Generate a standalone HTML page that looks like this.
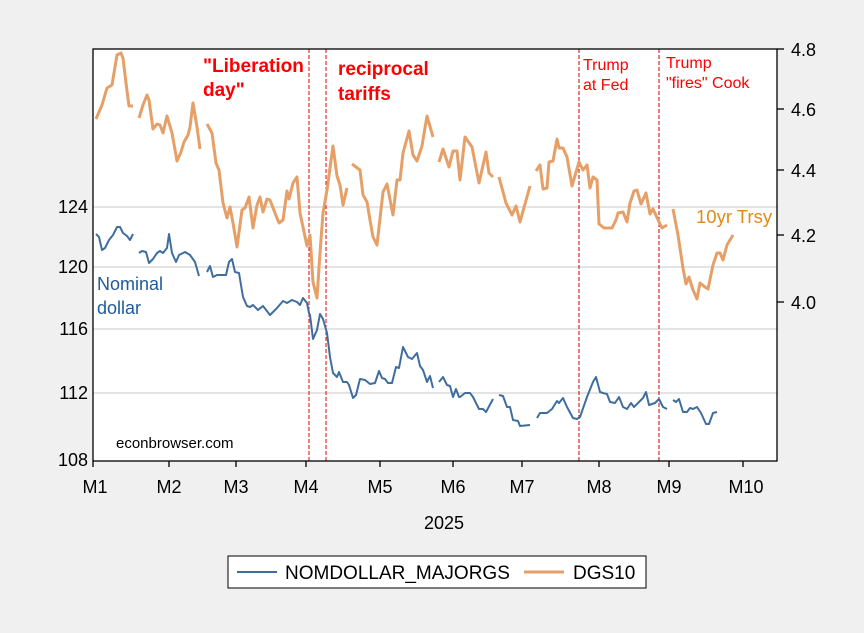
<!DOCTYPE html>
<html><head><meta charset="utf-8"><style>
body{margin:0;background:#f0f0f0;}
svg{display:block;font-family:"Liberation Sans",Arial,sans-serif;}
</style></head><body>
<svg width="864" height="633" viewBox="0 0 864 633" xmlns="http://www.w3.org/2000/svg">
<rect width="864" height="633" fill="#f0f0f0"/>
<rect x="93" y="49" width="684" height="412" fill="#fff"/>
<g stroke="#c8c8c8" stroke-width="1">
<line x1="93" y1="207" x2="777" y2="207"/>
<line x1="93" y1="267" x2="777" y2="267"/>
<line x1="93" y1="329" x2="777" y2="329"/>
<line x1="93" y1="393" x2="777" y2="393"/>
</g>
<g stroke="#e00" stroke-width="1" stroke-dasharray="4,2">
<line x1="309" y1="49" x2="309" y2="461"/>
<line x1="326" y1="49" x2="326" y2="461"/>
</g>
<g stroke="#c00" stroke-width="1" stroke-dasharray="4,2">
<line x1="579" y1="49" x2="579" y2="461"/>
<line x1="659" y1="49" x2="659" y2="461"/>
</g>
<g fill="none" stroke="#e69f66" stroke-width="3" stroke-linejoin="round">
<polyline points="96,119 102,105 107,88 112,85 117,55 121,53 123,58 126,83 129,106 133,106"/>
<polyline points="139,118 143,105 147,95 149,100 153,129 157,124 160,125 163,133 167,116 172,133 177,161 181,152 184,142 188,135 190,127 193,103 197,127 200,149"/>
<polyline points="207,124 212,133 216,163 219,170 223,203 227,218 230,207 233,223 237,247 242,210 245,208 249,197 253,228 257,205 260,197 263,212 267,199 270,200 275,213 279,223 283,220 287,191 289,199 293,183 297,177 300,213 307,246 310,235 313,282 317,298 320,253 323,213 327,190 333,146 337,176 340,185 343,205 347,188"/>
<polyline points="352,164 360,170 363,195 367,202 370,220 373,237 377,245 383,192 387,184 393,215 397,180 400,180 403,153 409,131 413,155 417,161 422,146 427,116 433,137"/>
<polyline points="439,162 443,149 449,167 453,151 457,151 460,180 465,137 472,147 479,183 486,152 489,173 493,177"/>
<polyline points="499,177 506,203 512,215 516,206 520,222 530,186"/>
<polyline points="536,171 540,165 543,189 547,188 549,162 553,161 557,139 559,148 563,148 567,157 572,186 579,162 583,170 587,165 590,188 593,177 597,180 599,224 604,228 612,228 616,220 618,213 623,212 627,222 630,203 634,191 637,190 641,204 646,193 650,214 653,209 660,224 662,228 667,225"/>
<polyline points="673,209 678,235 683,268 686,284 689,277 693,290 697,299 700,283 705,287 708,289 713,265 717,253 720,253 723,260 727,245 733,235"/>
</g>
<g fill="none" stroke="#3f6e9e" stroke-width="2" stroke-linejoin="round">
<polyline points="96,234 99,237 102,250 105,248 109,240 113,235 117,227 120,227 123,233 127,236 130,240 133,234"/>
<polyline points="139,253 142,251 146,252 149,263 153,259 157,253 160,251 163,253 167,248 169,234 172,253 176,262 179,255 185,252 190,255 195,262 199,276"/>
<polyline points="207,272 210,266 213,277 217,275 226,275 229,262 232,259 235,272 239,273 243,297 247,306 250,307 253,305 258,310 263,306 270,315 277,308 283,301 287,303 292,300 297,302 300,305 303,298 307,303 309,313 310,315 313,339 317,330 320,314 323,319 327,333 330,357 333,373 337,377 339,372 343,382 347,382 349,385 353,398 356,395 360,379 365,380 370,384 375,383 379,371 382,378 385,379 388,383 392,383 396,367 399,368 403,347 408,357 412,359 417,353 420,366 423,370 427,382 430,376 433,388"/>
<polyline points="439,382 443,377 447,385 450,386 453,397 456,389 459,397 460,397 465,393 470,393 473,397 479,409 483,409 486,412 493,399"/>
<polyline points="499,395 503,396 507,407 510,407 513,420 518,421 520,426 530,425"/>
<polyline points="537,418 540,413 547,413 552,409 557,401 559,403 563,398 567,407 573,418 577,419 580,417 587,397 593,382 596,377 600,392 603,393 607,394 610,402 615,403 619,397 623,407 627,409 631,403 634,407 640,401 643,398 646,392 649,405 655,403 659,399 663,407 667,409"/>
<polyline points="673,400 676,402 679,399 683,412 687,412 690,408 693,409 697,407 701,413 706,424 709,424 713,413 717,412"/>
</g>
<rect x="93" y="49" width="684" height="412" fill="none" stroke="#000" stroke-width="1.3"/>
<g stroke="#000" stroke-width="1.3">
<line x1="93" y1="461" x2="93" y2="467"/><line x1="169" y1="461" x2="169" y2="467"/><line x1="236" y1="461" x2="236" y2="467"/><line x1="306" y1="461" x2="306" y2="467"/><line x1="380" y1="461" x2="380" y2="467"/><line x1="453" y1="461" x2="453" y2="467"/><line x1="522" y1="461" x2="522" y2="467"/><line x1="599" y1="461" x2="599" y2="467"/><line x1="669" y1="461" x2="669" y2="467"/><line x1="743" y1="461" x2="743" y2="467"/>
<line x1="777" y1="49" x2="784" y2="49"/><line x1="777" y1="109" x2="784" y2="109"/><line x1="777" y1="170" x2="784" y2="170"/><line x1="777" y1="235" x2="784" y2="235"/><line x1="777" y1="302" x2="784" y2="302"/>
</g>
<g font-size="18" fill="#000" text-anchor="middle">
<text x="95" y="493">M1</text><text x="169" y="493">M2</text><text x="236" y="493">M3</text><text x="306" y="493">M4</text><text x="380" y="493">M5</text><text x="453" y="493">M6</text><text x="522" y="493">M7</text><text x="599" y="493">M8</text><text x="669" y="493">M9</text><text x="746" y="493">M10</text>
<text x="444" y="529">2025</text>
</g>
<g font-size="18" fill="#000" text-anchor="end">
<text x="88" y="213">124</text><text x="88" y="273">120</text><text x="88" y="335">116</text><text x="88" y="399">112</text><text x="88" y="466">108</text>
</g>
<g font-size="18" fill="#000">
<text x="791" y="56">4.8</text><text x="791" y="116">4.6</text><text x="791" y="177">4.4</text><text x="791" y="242">4.2</text><text x="791" y="309">4.0</text>
</g>
<g fill="#f00" font-weight="bold" font-size="19">
<text x="203" y="72">"Liberation</text><text x="203" y="96">day"</text>
<text x="338" y="75">reciprocal</text><text x="338" y="100">tariffs</text>
</g>
<g fill="#f00" font-size="16">
<text x="583" y="70">Trump</text><text x="583" y="90">at Fed</text>
<text x="666" y="68">Trump</text><text x="666" y="88">"fires" Cook</text>
</g>
<text x="696" y="223" font-size="18.5" fill="#e08a1a">10yr Trsy</text>
<text x="97" y="290" font-size="18" fill="#1f5a9a">Nominal</text>
<text x="97" y="314" font-size="18" fill="#1f5a9a">dollar</text>
<text x="116" y="448" font-size="15" fill="#000">econbrowser.com</text>
<rect x="228" y="556" width="418" height="32" fill="#fff" stroke="#000" stroke-width="1"/>
<line x1="237" y1="572" x2="277" y2="572" stroke="#3f6e9e" stroke-width="2"/>
<text x="285" y="579" font-size="19">NOMDOLLAR_MAJORGS</text>
<line x1="524" y1="572" x2="564" y2="572" stroke="#e69f66" stroke-width="3"/>
<text x="573" y="579" font-size="19">DGS10</text>
</svg>
</body></html>
